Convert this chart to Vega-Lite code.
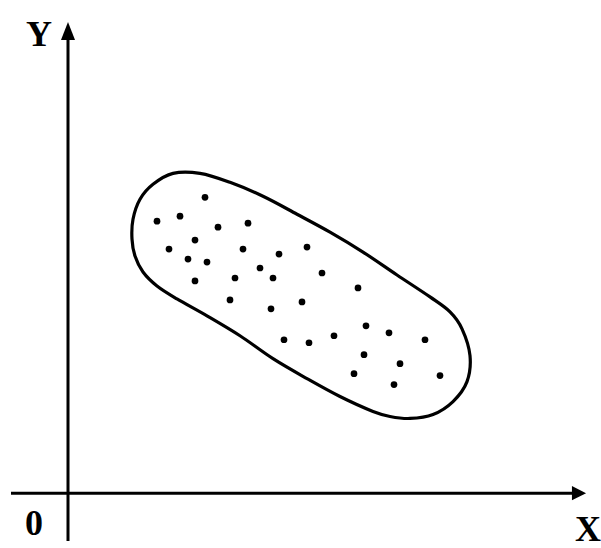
{
  "$schema": "https://vega.github.io/schema/vega-lite/v6.json",
  "width": 601,
  "height": 548,
  "autosize": {"type": "fit", "contains": "padding"},
  "padding": 0,
  "background": "white",
  "config": {"view": {"stroke": null}},
  "datasets": {
    "axes": [
      {"axis": "X", "x": -57, "x2": 505, "y": 0, "y2": 0},
      {"axis": "Y", "x": 0, "x2": 0, "y": -48, "y2": 455}
    ],
    "arrowX": [{"x": 511, "y": 0}],
    "arrowY": [{"x": 0, "y": 464}],
    "labels": [
      {"label": "Y", "x": -29, "y": 460},
      {"label": "0", "x": -34, "y": -31},
      {"label": "X", "x": 520, "y": -37}
    ],
    "outline": [
      {"i": 1, "x": 105, "y": 321},
      {"i": 2, "x": 132, "y": 321},
      {"i": 3, "x": 162, "y": 312},
      {"i": 4, "x": 195, "y": 298},
      {"i": 5, "x": 229, "y": 280},
      {"i": 6, "x": 262, "y": 262},
      {"i": 7, "x": 295, "y": 242},
      {"i": 8, "x": 329, "y": 219},
      {"i": 9, "x": 362, "y": 197},
      {"i": 10, "x": 382, "y": 182},
      {"i": 11, "x": 394, "y": 165},
      {"i": 12, "x": 402, "y": 138},
      {"i": 13, "x": 399, "y": 112},
      {"i": 14, "x": 385, "y": 92},
      {"i": 15, "x": 365, "y": 79},
      {"i": 16, "x": 342, "y": 75},
      {"i": 17, "x": 322, "y": 77},
      {"i": 18, "x": 305, "y": 82},
      {"i": 19, "x": 272, "y": 97},
      {"i": 20, "x": 239, "y": 115},
      {"i": 21, "x": 205, "y": 135},
      {"i": 22, "x": 172, "y": 158},
      {"i": 23, "x": 139, "y": 178},
      {"i": 24, "x": 109, "y": 195},
      {"i": 25, "x": 89, "y": 208},
      {"i": 26, "x": 75, "y": 222},
      {"i": 27, "x": 67, "y": 238},
      {"i": 28, "x": 64, "y": 255},
      {"i": 29, "x": 65, "y": 275},
      {"i": 30, "x": 72, "y": 295},
      {"i": 31, "x": 85, "y": 310}
    ],
    "points": [
      {"x": 89, "y": 273}, {"x": 112, "y": 278}, {"x": 137, "y": 297}, {"x": 150, "y": 267},
      {"x": 180, "y": 271}, {"x": 127, "y": 254}, {"x": 101, "y": 245}, {"x": 175, "y": 245},
      {"x": 120, "y": 235}, {"x": 139, "y": 232}, {"x": 211, "y": 240}, {"x": 239, "y": 247},
      {"x": 192, "y": 226}, {"x": 205, "y": 216}, {"x": 167, "y": 216}, {"x": 127, "y": 213},
      {"x": 162, "y": 194}, {"x": 203, "y": 185}, {"x": 234, "y": 192}, {"x": 254, "y": 221},
      {"x": 290, "y": 206}, {"x": 298, "y": 168}, {"x": 321, "y": 161}, {"x": 357, "y": 154},
      {"x": 216, "y": 154}, {"x": 241, "y": 151}, {"x": 266, "y": 158}, {"x": 296, "y": 139},
      {"x": 332, "y": 130}, {"x": 286, "y": 120}, {"x": 372, "y": 118}, {"x": 326, "y": 109}
    ]
  },
  "encoding": {
    "x": {"field": "x", "type": "quantitative", "scale": {"domain": [-68, 533], "nice": false, "zero": false}, "axis": null},
    "y": {"field": "y", "type": "quantitative", "scale": {"domain": [-53, 495], "nice": false, "zero": false}, "axis": null}
  },
  "layer": [
    {
      "data": {"name": "axes"},
      "mark": {"type": "rule", "color": "black", "strokeWidth": 3},
      "encoding": {
        "x2": {"field": "x2"},
        "y2": {"field": "y2"}
      }
    },
    {
      "data": {"name": "arrowX"},
      "mark": {"type": "point", "shape": "M1,0L-1,-1L-1,1Z", "filled": true, "color": "black", "opacity": 1, "size": 200}
    },
    {
      "data": {"name": "arrowY"},
      "mark": {"type": "point", "shape": "M0,-1L0.78,1L-0.78,1Z", "filled": true, "color": "black", "opacity": 1, "size": 324}
    },
    {
      "data": {"name": "outline"},
      "mark": {"type": "line", "color": "black", "strokeWidth": 3.2, "interpolate": "cardinal-closed"},
      "encoding": {"order": {"field": "i", "type": "quantitative"}}
    },
    {
      "data": {"name": "points"},
      "mark": {"type": "point", "shape": "circle", "filled": true, "color": "black", "opacity": 1, "size": 45}
    },
    {
      "data": {"name": "labels"},
      "mark": {"type": "text", "font": "Liberation Serif", "fontWeight": "bold", "fontSize": 36, "color": "black", "align": "center", "baseline": "middle"},
      "encoding": {"text": {"field": "label"}}
    }
  ]
}
